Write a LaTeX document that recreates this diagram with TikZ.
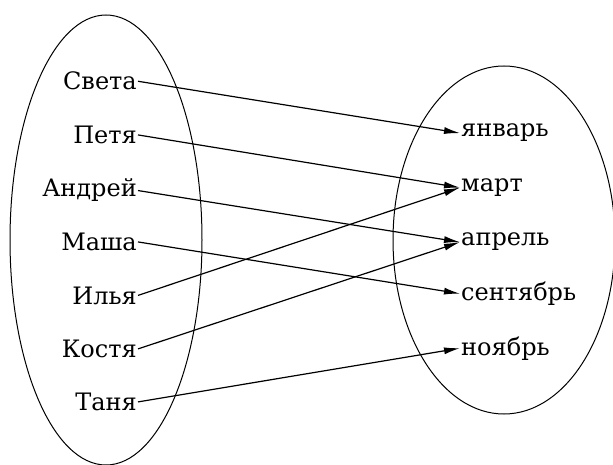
\documentclass[tikz,border=0pt]{standalone}
\usepackage{fontspec}
\setmainfont{DejaVu Serif}
\usetikzlibrary{arrows.meta}
\begin{document}
\begin{tikzpicture}[x=1pt,y=-1pt,
  lbl/.style={inner sep=1pt,font=\fontsize{24}{30}\selectfont},
  setline/.style={line width=1pt},
  mapto/.style={line width=1.2pt,-{Latex[length=16pt,width=7pt]}}]
\useasboundingbox (0,0) rectangle (613,465);
\clip (0,0) rectangle (613,465);
\draw[setline] (106,240) ellipse [x radius=96pt, y radius=225pt];
\draw[setline] (504,240) ellipse [x radius=111pt, y radius=174pt];
% left names
\node[lbl,anchor=base east] (sveta)  at (138,90)    {Света};
\node[lbl,anchor=base east] (petya)  at (138,143.5) {Петя};
\node[lbl,anchor=base east] (andrey) at (138,197)   {Андрей};
\node[lbl,anchor=base east] (masha)  at (138,250.5) {Маша};
\node[lbl,anchor=base east] (ilya)   at (138,304)   {Илья};
\node[lbl,anchor=base east] (kostya) at (138,357.5) {Костя};
\node[lbl,anchor=base east] (tanya)  at (138,410.5) {Таня};
% right months
\node[lbl,anchor=base west] (jan) at (460,137)   {январь};
\node[lbl,anchor=base west] (mar) at (460,191.5) {март};
\node[lbl,anchor=base west] (apr) at (460,246)   {апрель};
\node[lbl,anchor=base west] (sep) at (460,300.5) {сентябрь};
\node[lbl,anchor=base west] (nov) at (460,355)   {ноябрь};
% mapping
\draw[mapto] (sveta.east)  -- (jan.west);
\draw[mapto] (petya.east)  -- (mar.west);
\draw[mapto] (andrey.east) -- (apr.west);
\draw[mapto] (masha.east)  -- (sep.west);
\draw[mapto] (ilya.east)   -- (mar.west);
\draw[mapto] (kostya.east) -- (apr.west);
\draw[mapto] (tanya.east)  -- (nov.west);
\end{tikzpicture}
\end{document}
